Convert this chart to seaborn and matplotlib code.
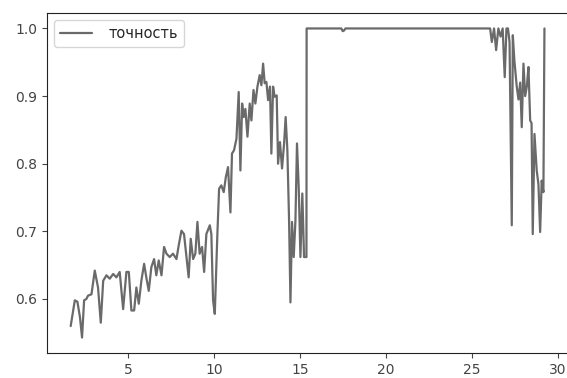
import matplotlib
matplotlib.use("Agg")
import matplotlib.pyplot as plt
import seaborn as sns
import pandas as pd

# Data
x_vals = [1.66, 1.90, 2.05, 2.20, 2.32, 2.44, 2.57, 2.67, 2.87, 3.06, 3.25, 3.41, 3.55, 3.74,
          3.93, 4.13, 4.32, 4.51, 4.71, 4.90, 5.04, 5.19, 5.35, 5.48, 5.62, 5.77, 5.93, 6.07,
          6.20, 6.35, 6.51, 6.64, 6.78, 6.94, 7.09, 7.23, 7.42, 7.61, 7.81, 7.94, 8.10, 8.25,
          8.39, 8.52, 8.64, 8.78, 8.91, 9.03, 9.16, 9.30, 9.42, 9.55, 9.75, 9.84, 9.94, 10.04,
          10.19, 10.29, 10.42, 10.56, 10.68, 10.81, 10.95, 11.04, 11.16, 11.30, 11.43, 11.53,
          11.63, 11.72, 11.82, 11.94, 12.07, 12.17, 12.29, 12.40, 12.52, 12.65, 12.75, 12.85,
          12.94, 13.04, 13.14, 13.25, 13.33, 13.43, 13.52, 13.64, 13.72, 13.83, 13.95, 14.07,
          14.16, 14.26, 14.36, 14.44, 14.53, 14.63, 14.73, 14.82, 14.92, 15.02, 15.13, 15.23,
          15.37, 15.38, 17.40, 17.48, 17.56, 17.64, 25.95, 26.05, 26.15, 26.28, 26.40, 26.53,
          26.66, 26.78, 26.90, 27.00, 27.09, 27.18, 27.31, 27.37, 27.46, 27.60, 27.70, 27.80,
          27.89, 27.99, 28.09, 28.19, 28.28, 28.38, 28.46, 28.53, 28.63, 28.76, 28.86, 28.96,
          29.05, 29.15, 29.21]
acc_vals = [0.560, 0.598, 0.596, 0.573, 0.543, 0.598, 0.600, 0.605, 0.607, 0.642, 0.617, 0.565,
            0.627, 0.635, 0.630, 0.637, 0.632, 0.640, 0.585, 0.640, 0.640, 0.583, 0.583, 0.617,
            0.593, 0.627, 0.652, 0.630, 0.612, 0.647, 0.659, 0.635, 0.657, 0.635, 0.677, 0.667,
            0.662, 0.667, 0.659, 0.679, 0.701, 0.696, 0.662, 0.632, 0.689, 0.659, 0.667, 0.714,
            0.667, 0.677, 0.640, 0.696, 0.709, 0.696, 0.598, 0.578, 0.696, 0.763, 0.768, 0.758,
            0.780, 0.795, 0.728, 0.815, 0.820, 0.837, 0.906, 0.790, 0.889, 0.869, 0.881, 0.840,
            0.889, 0.864, 0.909, 0.889, 0.914, 0.931, 0.916, 0.948, 0.919, 0.921, 0.894, 0.914,
            0.815, 0.914, 0.899, 0.901, 0.800, 0.832, 0.793, 0.830, 0.869, 0.820, 0.716, 0.595,
            0.714, 0.662, 0.716, 0.830, 0.765, 0.662, 0.756, 0.662, 0.662, 1.000, 1.000, 0.996,
            0.997, 1.000, 1.000, 1.000, 0.980, 1.000, 0.968, 1.000, 0.988, 1.000, 0.928, 1.000,
            1.000, 0.980, 0.709, 0.990, 0.953, 0.914, 0.895, 0.920, 0.854, 0.948, 0.900, 0.915,
            0.943, 0.864, 0.860, 0.696, 0.844, 0.790, 0.770, 0.699, 0.775, 0.758, 1.000]

df = pd.DataFrame({"x": x_vals, "acc": acc_vals})

sns.set_style("ticks")
plt.rcParams["font.family"] = ["DejaVu Sans"]

fig = plt.figure(figsize=(5.67, 3.78), dpi=100)
ax = fig.add_axes([47 / 567, 25 / 378, 1 - 47 / 567 + 0.002, 340 / 378])

sns.lineplot(data=df, x="x", y="acc", ax=ax, color="#6a6a6a", linewidth=1.6,
             estimator=None, sort=False, label="точность")

ax.set_xlabel("")
ax.set_ylabel("")
ax.set_xticks([5, 10, 15, 20, 25, 30])
ax.set_yticks([0.6, 0.7, 0.8, 0.9, 1.0])
ax.tick_params(labelsize=10, colors="#444444")
for s in ax.spines.values():
    s.set_color("#222222")
    s.set_visible(True)
ax.legend(loc="upper left", fontsize=10.5, handletextpad=1.1, handlelength=2.2)

fig.savefig("out.png", dpi=100)
